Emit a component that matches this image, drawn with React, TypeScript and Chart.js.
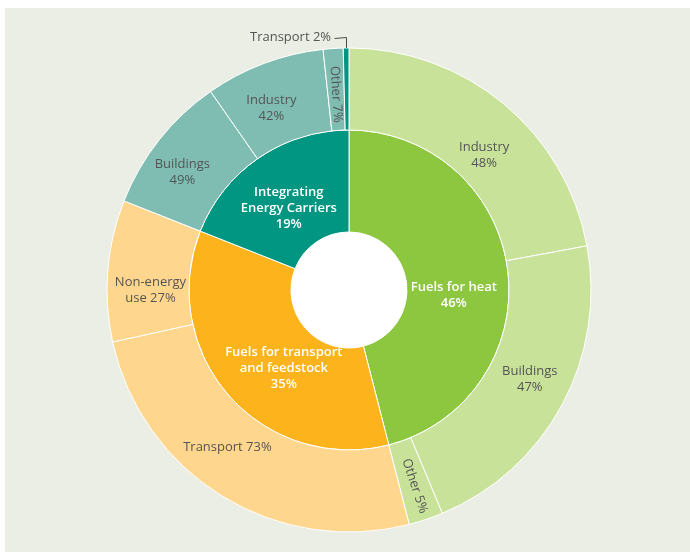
import React, { useEffect, useRef } from "react";
import { Chart, registerables } from "chart.js";

Chart.register(...registerables);

// Inner ring: main categories
const mainLabels = [
  ["Fuels for heat", "46%"],
  ["Fuels for transport", "and feedstock", "35%"],
  ["Integrating", "Energy Carriers", "19%"],
];
const mainValues = [46, 35, 19];
const mainColors = ["#8dc63f", "#fdb31b", "#009681"];

// Outer ring: breakdown of each main category (share of parent, %)
const subLabels = [
  ["Industry", "48%"],
  ["Buildings", "47%"],
  ["Other 5%"],
  ["Transport 73%"],
  ["Non-energy", "use 27%"],
  ["Buildings", "49%"],
  ["Industry", "42%"],
  ["Other 7%"],
  ["Transport 2%"],
];
const subShares = [48, 47, 5, 73, 27, 49, 42, 7, 2];
const subParent = [0, 0, 0, 1, 1, 2, 2, 2, 2];
const subColors = [
  "#c8e29a", "#c8e29a", "#c8e29a",
  "#ffd68e", "#ffd68e",
  "#7fbdb3", "#7fbdb3", "#7fbdb3", "#009681",
];

const subValues = subShares.map((s, i) => (mainValues[subParent[i]] * s) / 100);

// label placement: t = fraction along arc, f = fraction across ring
const mainPlace = [
  { t: 0.56, f: 0.46 },
  { t: 0.43, f: 0.43 },
  { t: 0.47, f: 0.43 },
];
const subPlace: any[] = [
  { t: 0.566, f: 0.38 },
  { t: 0.474, f: 0.51 },
  { t: 0.5, f: 0.57, rotate: true },
  { t: 0.567, f: 0.47 },
  { t: 0.365, f: 0.47 },
  { t: 0.41, f: 0.54 },
  { t: 0.41, f: 0.46 },
  { t: 0.5, f: 0.44, rotate: true },
  { t: 0.5, f: 1.0, leader: { up: 11, left: 12 } },
];

const OUTER_R = 242;
const HOLE_R = 58;

const labelPlugin = {
  id: "sunLabels",
  beforeDatasetsDraw(chart: any) {
    const meta = chart.getDatasetMeta(1);
    const el = meta.data[0];
    if (!el) return;
    const ctx = chart.ctx;
    ctx.save();
    ctx.fillStyle = "#ffffff";
    ctx.beginPath();
    ctx.arc(el.x, el.y, el.innerRadius, 0, Math.PI * 2);
    ctx.fill();
    ctx.restore();
  },
  afterDatasetsDraw(chart: any) {
    const ctx = chart.ctx;
    const drawSet = (dsIndex: number, labels: string[][], place: any[], font: string, color: string, lh: number) => {
      const meta = chart.getDatasetMeta(dsIndex);
      meta.data.forEach((el: any, i: number) => {
        const p = place[i];
        const lines = labels[i];
        const a = el.startAngle + p.t * (el.endAngle - el.startAngle);
        const r = el.innerRadius + p.f * (el.outerRadius - el.innerRadius);
        const x = el.x + Math.cos(a) * r;
        const y = el.y + Math.sin(a) * r;
        ctx.save();
        ctx.font = font;
        ctx.fillStyle = color;
        ctx.textBaseline = "middle";
        if (p.leader) {
          const lx = x;
          const ly = y - p.leader.up;
          ctx.strokeStyle = "#4a4a4a";
          ctx.lineWidth = 1;
          ctx.beginPath();
          ctx.moveTo(Math.round(lx) + 0.5, y);
          ctx.lineTo(Math.round(lx) + 0.5, Math.round(ly) + 0.5);
          ctx.lineTo(Math.round(lx - p.leader.left) + 0.5, Math.round(ly) + 0.5 + 1);
          ctx.stroke();
          ctx.textAlign = "right";
          ctx.fillText(lines[0], lx - p.leader.left - 3, ly);
          ctx.restore();
          return;
        }
        ctx.translate(x, y);
        if (p.rotate) {
          let rot = a;
          while (rot > Math.PI / 2) rot -= Math.PI;
          while (rot <= -Math.PI / 2) rot += Math.PI;
          ctx.rotate(rot);
        }
        ctx.textAlign = "center";
        const n = lines.length;
        lines.forEach((ln, k) => {
          ctx.fillText(ln, 0, (k - (n - 1) / 2) * lh);
        });
        ctx.restore();
      });
    };
    drawSet(0, subLabels, subPlace, "13px 'Open Sans'", "#555555", 16);
    drawSet(1, mainLabels, mainPlace, "600 13px 'Open Sans'", "#ffffff", 16);
  },
};

export default function App() {
  const ref = useRef<HTMLCanvasElement>(null);
  useEffect(() => {
    const chart = new Chart(ref.current!, {
      type: "doughnut",
      data: {
        labels: subLabels.map((l) => l.join(" ")),
        datasets: [
          {
            data: subValues,
            backgroundColor: subColors,
            borderColor: "#ffffff",
            borderWidth: 1,
            weight: 82,
          },
          {
            data: mainValues,
            backgroundColor: mainColors,
            borderColor: "#ffffff",
            borderWidth: 1,
            weight: 102,
          },
        ],
      },
      options: {
        animation: false,
        responsive: false,
        radius: OUTER_R,
        cutout: `${(HOLE_R / OUTER_R) * 100}%`,
        layout: { padding: { top: 20, left: 3, right: 0, bottom: 0 } },
        plugins: { legend: { display: false }, tooltip: { enabled: false } },
      } as any,
      plugins: [labelPlugin],
    });
    return () => chart.destroy();
  }, []);
  return (
    <div
      style={{
        position: "fixed",
        left: 5,
        top: 8,
        width: 685,
        height: 544,
        background: "#ebeee4",
      }}
    >
      <canvas ref={ref} width={685} height={544} style={{ display: "block" }} />
    </div>
  );
}
